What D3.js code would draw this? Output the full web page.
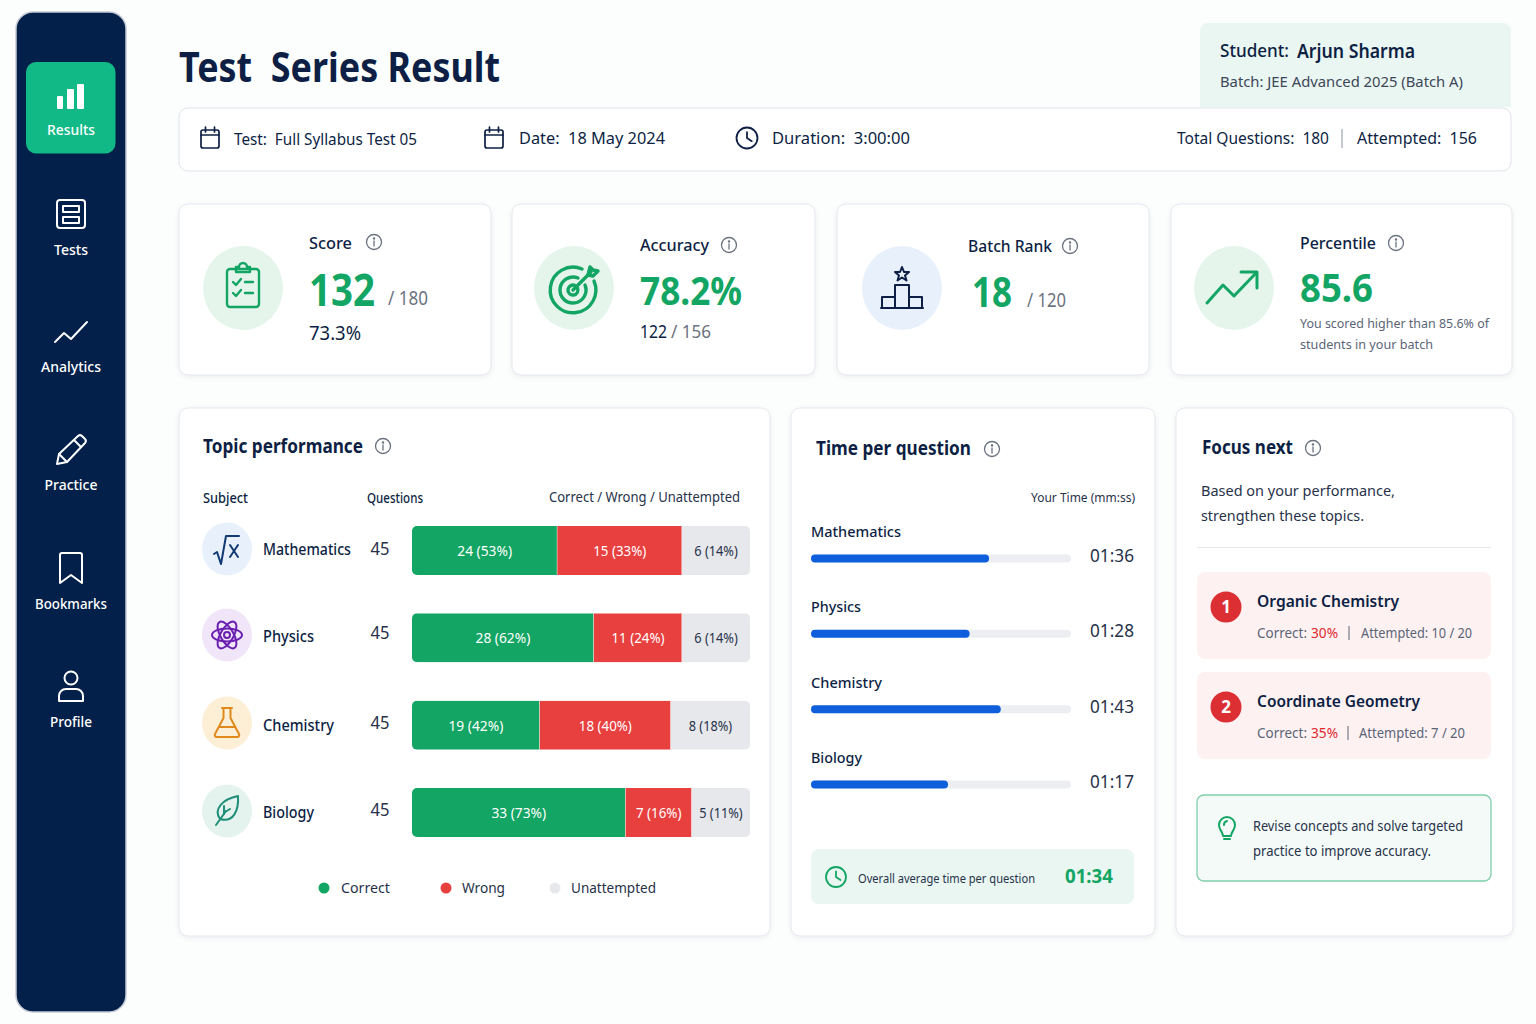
<!DOCTYPE html>
<html>
<head>
<meta charset="utf-8">
<title>Test Series Result</title>
<script src="https://cdn.jsdelivr.net/npm/d3@7"></script>
<style>
  html, body { margin: 0; padding: 0; background: #fcfdfd; }
  svg { display: block; }
  text { font-family: "Noto Sans", sans-serif; white-space: pre; }
</style>
</head>
<body>
<svg id="page" width="1536" height="1024"></svg>
<script>
const navLabels = ["Results", "Tests", "Analytics", "Practice", "Bookmarks", "Profile"];

const subjects = ["Mathematics", "Physics", "Chemistry", "Biology"];
const questions = [45, 45, 45, 45];
const correct = [24, 28, 19, 33];
const wrong = [15, 11, 18, 7];
const unattempted = [6, 6, 8, 5];
const correctPct = [53, 62, 42, 73];
const wrongPct = [33, 24, 40, 16];
const unattemptedPct = [14, 14, 18, 11];
// the reference bars are not drawn to their labels, so these are the shares of the bar as pictured
const correctDrawn = [43, 53.8, 37.8, 63.2];
const wrongDrawn = [36.9, 26.1, 38.8, 19.6];
const unattemptedDrawn = [20.1, 20.1, 23.4, 17.2];

const timeLabels = ["01:36", "01:28", "01:43", "01:17"];
const timeDrawn = [68.5, 61, 73, 52.7];

const legendLabels = ["Correct", "Wrong", "Unattempted"];
const focusTopics = ["Organic Chemistry", "Coordinate Geometry"];
const focusCorrect = ["30%", "35%"];
const focusAttempted = ["10 / 20", "7 / 20"];

const NAVY = "#0d1f44", GREEN = "#12a563", RED = "#e8403f", GREY = "#e6e8ec", MUTED = "#5b6577", SIDE = "#02204a";

const svg = d3.select("#page");

const defs = svg.append("defs");
const shadow = defs.append("filter").attr("id", "soft").attr("x", "-5%").attr("y", "-5%").attr("width", "110%").attr("height", "112%");
shadow.append("feDropShadow").attr("dx", 0).attr("dy", 1.5).attr("stdDeviation", 2.5).attr("flood-color", "#1b2a4a").attr("flood-opacity", 0.07);

// w squeezes the string to the width it has in the reference, whose face is narrower than Noto Sans
function txt(parent, x, y, str, size, weight, color, anchor, w) {
  const t = parent.append("text").attr("x", x).attr("y", y).attr("font-size", size)
    .attr("font-weight", weight || 400).attr("fill", color || NAVY)
    .attr("text-anchor", anchor || "start").text(str);
  if (w) t.attr("textLength", w).attr("lengthAdjust", "spacingAndGlyphs");
  return t;
}

function box(parent, x0, y0, x1, y1, r, fill, stroke) {
  return parent.append("rect").attr("x", x0).attr("y", y0).attr("width", x1 - x0).attr("height", y1 - y0)
    .attr("rx", r).attr("fill", fill).attr("stroke", stroke || "none");
}

function card(x0, y0, x1, y1) {
  box(svg, x0, y0, x1, y1, 9, "#fff", "#e4e7ee").attr("filter", "url(#soft)");
}

// icons are drawn round 0,0
function icon(parent, cx, cy, color, width, paths) {
  const g = parent.append("g").attr("transform", `translate(${cx},${cy})`)
    .attr("fill", "none").attr("stroke", color).attr("stroke-width", width)
    .attr("stroke-linecap", "round").attr("stroke-linejoin", "round");
  paths.forEach(d => g.append("path").attr("d", d));
  return g;
}

function infoIcon(cx, cy) {
  const g = icon(svg, cx, cy, "#6b7280", 1.3, ["M0 -1V4"]);
  g.append("circle").attr("r", 7.5);
  g.append("circle").attr("cy", -3.6).attr("r", 0.6).attr("fill", "#6b7280");
}

function calendar(cx, cy) {
  icon(svg, cx, cy, NAVY, 1.7, [
    "M-7 -8H7A2 2 0 0 1 9 -6V8A2 2 0 0 1 7 10H-7A2 2 0 0 1 -9 8V-6A2 2 0 0 1 -7 -8Z",
    "M-9 -3H9", "M-4.5 -11V-6", "M4.5 -11V-6"
  ]);
}

function clock(cx, cy, color, r) {
  const g = icon(svg, cx, cy, color, 1.8, [`M0 ${-r * 0.55}V0L${r * 0.45} ${r * 0.3}`]);
  g.append("circle").attr("r", r);
}

// sidebar
box(svg, 16, 12, 126, 1012, 17, SIDE, "#c3c9d4").attr("stroke-width", 1.5);
box(svg, 26, 62, 115.5, 153.5, 10, "#10b985");

const navY = d3.scalePoint().domain(navLabels).range([96, 686]);
const navText = [135, 255, 372, 490, 609, 727];
const navWidth = [48, 34, 60, 53, 72, 42];
navLabels.forEach((d, i) => {
  txt(svg, 71, navText[i], d, 14.5, 500, "#fff", "middle", navWidth[i]);
});
const navIcons = [
  ["M-13 1V12H-9V1Z", "M-3 -6V12H2V-6Z", "M7 -11V12H12V-11Z"],
  ["M-11 -14H11A3 3 0 0 1 14 -11V11A3 3 0 0 1 11 14H-11A3 3 0 0 1 -14 11V-11A3 3 0 0 1 -11 -14Z",
   "M-8 -8H8V-2H-8Z", "M-8 3H8V9H-8Z"],
  ["M-16 10L-7 1L0 7L16 -10"],
  ["M-14 14L-12 4L7 -14A3 3 0 0 1 11 -14L14 -11A3 3 0 0 1 14 -7L-4 12Z", "M-12 4L-4 12", "M3 -10L10 -3"],
  ["M-9 -15H9A2 2 0 0 1 11 -13V15L0 7L-11 15V-13A2 2 0 0 1 -9 -15Z"],
  ["M-12 15V10A7 7 0 0 1 -5 3H5A7 7 0 0 1 12 10V15Z", "M-6.5 -8A6.5 6.5 0 1 0 6.5 -8A6.5 6.5 0 1 0 -6.5 -8Z"]
];
navLabels.forEach((d, i) => {
  const g = icon(svg, 71, navY(d), "#fff", 2, navIcons[i]);
  if (i === 0) g.selectAll("path").attr("fill", "#fff");
});

// header
txt(svg, 179, 82, "Test  Series Result", 41, 700, NAVY, "start", 321);
svg.append("path").attr("d", "M1200 107V31A8 8 0 0 1 1208 23H1503A8 8 0 0 1 1511 31V107Z").attr("fill", "#eaf6f1");
txt(svg, 1220, 57, "Student:", 17.5, 500, NAVY, "start", 69);
txt(svg, 1297, 58, "Arjun Sharma", 19, 600, NAVY, "start", 118);
txt(svg, 1220, 87, "Batch: JEE Advanced 2025 (Batch A)", 14.5, 400, "#3c4658", "start", 243);

box(svg, 179, 108, 1511, 171, 9, "#fff", "#e0e4ea");
calendar(210, 138);
calendar(494, 138);
clock(747, 138, NAVY, 10.5);
txt(svg, 234, 145, "Test:  Full Syllabus Test 05", 16.5, 400, NAVY, "start", 183);
txt(svg, 519, 144, "Date:  18 May 2024", 16.5, 400, NAVY, "start", 146);
txt(svg, 772, 144, "Duration:  3:00:00", 16.5, 400, NAVY, "start", 138);
txt(svg, 1177, 144, "Total Questions:  180", 16.5, 400, NAVY, "start", 152);
svg.append("line").attr("x1", 1342).attr("x2", 1342).attr("y1", 129).attr("y2", 148).attr("stroke", "#8a93a3");
txt(svg, 1357, 144, "Attempted:  156", 16.5, 400, NAVY, "start", 120);

// score cards
card(179, 204, 491, 375);
card(512, 204, 815, 375);
card(837, 204, 1149, 375);
card(1171, 204, 1512, 375);

[[243, "#e6f5ec"], [574, "#e6f5ec"], [902, "#e8f1fb"], [1234, "#e6f5ec"]].forEach(d => {
  svg.append("ellipse").attr("cx", d[0]).attr("cy", 288).attr("rx", 40).attr("ry", 42).attr("fill", d[1]);
});
icon(svg, 243, 287, GREEN, 2.4, [
  "M-13 -18H13A3 3 0 0 1 16 -15V17A3 3 0 0 1 13 20H-13A3 3 0 0 1 -16 17V-15A3 3 0 0 1 -13 -18Z",
  "M-7 -18V-20H-4A4 4 0 0 1 4 -20H7V-15H-7Z", "M-10 -5L-7 -2L-2 -8", "M2 -5H10", "M-10 6L-7 9L-2 3", "M2 6H10"
]);
icon(svg, 573, 290, GREEN, 3.4, [
  "M21 -9A22.8 22.8 0 1 1 9 -21",
  "M12 -5A13 13 0 1 1 5 -12",
  "M4.5 -2A5 5 0 1 1 2 -4.5",
  "M0 0L18 -18", "M15 -15L17 -23L20 -20L25 -19L20 -14Z"
]);
icon(svg, 902, 289, NAVY, 2, [
  "M-21 19H21", "M-20 19V8H-7V19", "M-7 19V-4H7V19", "M7 19V8H20V19",
  "M0 -22L2 -17L7 -17L3 -13.5L4.5 -8.5L0 -11.5L-4.5 -8.5L-3 -13.5L-7 -17L-2 -17Z"
]);
icon(svg, 1233, 288, GREEN, 3, ["M-26 15L-10 -3L1 8L23 -15", "M8 -16H24V0"]);

txt(svg, 309, 249, "Score", 16, 500, NAVY, "start", 43);
infoIcon(374, 242);
txt(svg, 309, 306, "132", 44, 700, GREEN, "start", 66);
txt(svg, 388, 305, "/ 180", 19, 400, "#6b7280", "start", 40);
txt(svg, 309, 340, "73.3%", 19.5, 400, NAVY, "start", 52);

txt(svg, 640, 251, "Accuracy", 16, 500, NAVY, "start", 69);
infoIcon(729, 245);
txt(svg, 640, 305, "78.2%", 39, 700, GREEN, "start", 102);
txt(svg, 640, 338, "122", 18, 400, NAVY, "start", 27);
txt(svg, 671, 338, "/ 156", 18, 400, "#6b7280", "start", 40);

txt(svg, 968, 252, "Batch Rank", 16, 500, NAVY, "start", 84);
infoIcon(1070, 246);
txt(svg, 972, 307, "18", 41, 700, GREEN, "start", 40);
txt(svg, 1027, 307, "/ 120", 19, 400, "#6b7280", "start", 39);

txt(svg, 1300, 249, "Percentile", 16, 500, NAVY, "start", 76);
infoIcon(1396, 243);
txt(svg, 1300, 302, "85.6", 39, 700, GREEN, "start", 73);
txt(svg, 1300, 328, "You scored higher than 85.6% of", 13, 400, MUTED, "start", 189);
txt(svg, 1300, 349, "students in your batch", 13, 400, MUTED, "start", 133);

// topic performance
card(179, 408, 770, 936);
txt(svg, 203, 453, "Topic performance", 20, 700, NAVY, "start", 160);
infoIcon(383, 446);
txt(svg, 203, 503, "Subject", 13.5, 500, NAVY, "start", 45);
txt(svg, 367, 503, "Questions", 13.5, 500, NAVY, "start", 56);
txt(svg, 740, 502, "Correct / Wrong / Unattempted", 13.5, 400, "#27324a", "end", 191);

const rowY = d3.scalePoint().domain(subjects).range([550.5, 812.5]);
const barX = d3.scaleLinear().domain([0, 100]).range([412, 750]);
const BAR_H = 49;

const rows = subjects.map((s, i) => ({
  subject: s,
  correct: correctDrawn[i], wrong: wrongDrawn[i], unattempted: unattemptedDrawn[i],
  labels: {
    correct: `${correct[i]} (${correctPct[i]}%)`,
    wrong: `${wrong[i]} (${wrongPct[i]}%)`,
    unattempted: `${unattempted[i]} (${unattemptedPct[i]}%)`
  }
}));
const keys = ["correct", "wrong", "unattempted"];
const stackColor = d3.scaleOrdinal().domain(keys).range([GREEN, RED, GREY]);
const labelColor = d3.scaleOrdinal().domain(keys).range(["#fff", "#fff", "#27324a"]);
const labelSqueeze = d3.scaleOrdinal().domain(keys).range([0.95, 0.92, 0.88]);
const series = d3.stack().keys(keys)(rows);

rows.forEach((r, i) => {
  defs.append("clipPath").attr("id", "bar" + i).append("rect")
    .attr("x", barX(0)).attr("y", rowY(r.subject) - BAR_H / 2)
    .attr("width", barX(100) - barX(0)).attr("height", BAR_H).attr("rx", 5);
});

svg.append("g").selectAll("g").data(series).join("g")
  .each(function(s) {
    d3.select(this).selectAll("rect").data(s).join("rect")
      .attr("clip-path", (d, i) => `url(#bar${i})`)
      .attr("x", d => barX(d[0]))
      .attr("y", d => rowY(d.data.subject) - BAR_H / 2)
      .attr("width", d => barX(d[1]) - barX(d[0]))
      .attr("height", BAR_H)
      .attr("fill", stackColor(s.key));
    // thin white seam between segments
    if (s.key !== "unattempted") {
      d3.select(this).selectAll("line").data(s).join("line")
        .attr("x1", d => barX(d[1])).attr("x2", d => barX(d[1]))
        .attr("y1", d => rowY(d.data.subject) - BAR_H / 2)
        .attr("y2", d => rowY(d.data.subject) + BAR_H / 2)
        .attr("stroke", "#fff").attr("stroke-width", 1);
    }
    d3.select(this).selectAll("text").data(s).join("text")
      .attr("x", d => (barX(d[0]) + barX(d[1])) / 2)
      .attr("y", d => rowY(d.data.subject) + 5.5)
      .attr("text-anchor", "middle").attr("font-size", 14.5)
      .attr("fill", labelColor(s.key))
      .text(d => d.data.labels[s.key])
      .each(function() {
        d3.select(this).attr("textLength", this.getComputedTextLength() * labelSqueeze(s.key))
          .attr("lengthAdjust", "spacingAndGlyphs");
      });
  });

const subjectFill = ["#e8f1fb", "#f0e5f9", "#fdeed6", "#e4f3ee"];
const subjectIcon = [
  ["M-13 5L-10 3L-6 15L-1 -13H12", "M3 -4L11 8", "M11 -4L3 8"],
  ["M-3 0A3 3 0 1 0 3 0A3 3 0 1 0 -3 0Z"],
  ["M-5 -15H5", "M-3.5 -15V-5L-12 11A2 2 0 0 0 -10 14H10A2 2 0 0 0 12 11L3.5 -5V-15", "M-8 4H8"],
  ["M-11 14L-1 0", "M-7 8C-14 -2 -4 -12 11 -15C12 0 6 12 -7 8Z", "M-3 -5V3", "M3 -2L-2 1"]
];
const subjectStroke = ["#123a72", "#6a1fb0", "#e08a1c", "#1f8f7a"];
const subjectName = [555, 642, 731, 818];
const subjectNameWidth = [88, 51, 71, 51];
const questionBase = [555, 639, 729, 816];
subjects.forEach((s, i) => {
  const cy = [549, 635, 723, 811][i];
  svg.append("ellipse").attr("cx", 227).attr("cy", cy).attr("rx", 25).attr("ry", 26.5).attr("fill", subjectFill[i]);
  const g = icon(svg, 227, cy, subjectStroke[i], 2, subjectIcon[i]);
  if (i === 1) {
    [0, 60, 120].forEach(a => g.append("ellipse").attr("rx", 15).attr("ry", 6.5).attr("transform", `rotate(${a})`));
  }
  txt(svg, 263, subjectName[i], s, 15.5, 500, NAVY, "start", subjectNameWidth[i]);
  txt(svg, 380, questionBase[i], questions[i], 18, 400, "#27324a", "middle", 19);
});

const legendDot = [324, 446, 555];
const legendText = [341, 462, 571];
const legendWidth = [49, 43, 85];
legendLabels.forEach((d, i) => {
  svg.append("circle").attr("cx", legendDot[i]).attr("cy", 888).attr("r", 5.5).attr("fill", stackColor(keys[i]));
  txt(svg, legendText[i], 893, d, 15, 400, "#27324a", "start", legendWidth[i]);
});

// time per question
card(791, 408, 1155, 936);
txt(svg, 816, 455, "Time per question", 20, 700, NAVY, "start", 155);
infoIcon(992, 449);
txt(svg, 1135, 502, "Your Time (mm:ss)", 13, 400, "#27324a", "end", 104);

const timeX = d3.scaleLinear().domain([0, 100]).range([811, 1071]);
const timeY = d3.scalePoint().domain(subjects).range([558.5, 784.5]);
const timeRows = subjects.map((s, i) => ({ subject: s, drawn: timeDrawn[i], label: timeLabels[i], w: [90, 50, 71, 51][i] }));

const timeG = svg.append("g").selectAll("g").data(timeRows).join("g");
timeG.append("rect").attr("x", timeX(0)).attr("y", d => timeY(d.subject) - 4)
  .attr("width", timeX(100) - timeX(0)).attr("height", 8).attr("rx", 4).attr("fill", "#eceef2");
timeG.append("rect").attr("x", timeX(0)).attr("y", d => timeY(d.subject) - 4)
  .attr("width", d => timeX(d.drawn) - timeX(0)).attr("height", 8).attr("rx", 4).attr("fill", "#0f5fdc");
timeG.append("text").attr("x", timeX(0)).attr("y", d => timeY(d.subject) - 21.5)
  .attr("font-size", 15).attr("font-weight", 500).attr("fill", NAVY)
  .attr("textLength", d => d.w).attr("lengthAdjust", "spacingAndGlyphs").text(d => d.subject);
timeG.append("text").attr("x", 1134).attr("y", d => timeY(d.subject) + 3.5)
  .attr("text-anchor", "end").attr("font-size", 18).attr("fill", "#27324a")
  .attr("textLength", 44).attr("lengthAdjust", "spacingAndGlyphs").text(d => d.label);

box(svg, 811, 849, 1134, 904, 8, "#e9f6f1");
clock(836, 877, GREEN, 10);
txt(svg, 858, 883, "Overall average time per question", 12.5, 400, "#27324a", "start", 177);
txt(svg, 1065, 883, "01:34", 20, 700, GREEN, "start", 48);

// focus next
card(1176, 408, 1513, 936);
txt(svg, 1202, 454, "Focus next", 20, 700, NAVY, "start", 91);
infoIcon(1313, 448);
txt(svg, 1201, 496, "Based on your performance,", 15, 400, "#27324a", "start", 194);
txt(svg, 1201, 521, "strengthen these topics.", 15, 400, "#27324a", "start", 163);
svg.append("line").attr("x1", 1197).attr("x2", 1491).attr("y1", 547.5).attr("y2", 547.5).attr("stroke", "#e4e7ee");

const focusNameWidth = [142, 163];
const focusSepX = [1349, 1348];
const focusAttemptX = [1361, 1359];
const focusAttemptWidth = [111, 106];
focusTopics.forEach((t, i) => {
  const top = [572, 672][i];
  box(svg, 1197, top, 1491, top + 87, 8, "#fdf1f1");
  svg.append("circle").attr("cx", 1226).attr("cy", top + 35).attr("r", 15.5).attr("fill", "#dc2f33");
  txt(svg, 1226, top + 41, i + 1, 17, 700, "#fff", "middle");
  txt(svg, 1257, top + 35, t, 16.5, 600, NAVY, "start", focusNameWidth[i]);
  txt(svg, 1257, top + 66, "Correct:", 13.5, 400, MUTED, "start", 50);
  txt(svg, 1311, top + 66, focusCorrect[i], 13.5, 400, "#e0282e", "start", 27);
  svg.append("line").attr("x1", focusSepX[i]).attr("x2", focusSepX[i]).attr("y1", top + 54).attr("y2", top + 68).attr("stroke", MUTED);
  txt(svg, focusAttemptX[i], top + 66, "Attempted: " + focusAttempted[i], 13.5, 400, MUTED, "start", focusAttemptWidth[i]);
});

box(svg, 1197, 795, 1491, 881, 7, "#f3faf7", "#7fd0ac").attr("stroke-width", 1.3);
icon(svg, 1227, 829, GREEN, 2, [
  "M-4 7C-4 3 -8 1 -8 -4A8 8 0 0 1 8 -4C8 1 4 3 4 7Z", "M-3 10H3", "M-3 -4A4 4 0 0 1 0 -8"
]);
txt(svg, 1253, 831, "Revise concepts and solve targeted", 13.5, 400, "#27324a", "start", 210);
txt(svg, 1253, 856, "practice to improve accuracy.", 13.5, 400, "#27324a", "start", 178);
</script>
</body>
</html>
